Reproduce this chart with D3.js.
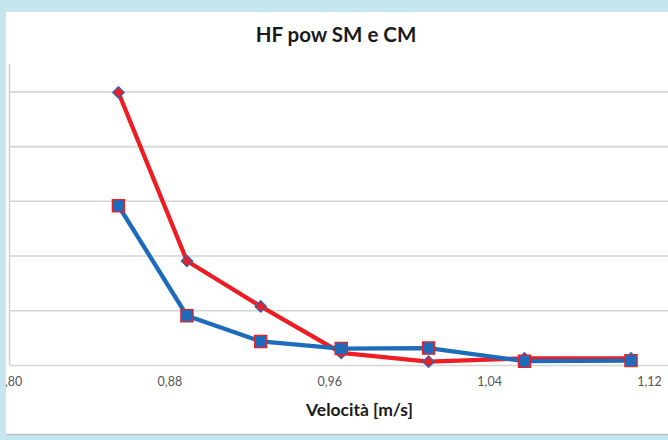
<!DOCTYPE html>
<html>
<head>
<meta charset="utf-8">
<script src="https://cdn.jsdelivr.net/npm/d3@7/dist/d3.min.js"></script>
<style>
  html, body { margin: 0; padding: 0; background: #c6e5ee; }
  svg { display: block; }
</style>
</head>
<body>
<svg id="chart" width="668" height="440"></svg>
<script>
// Speed (m/s) at each test step
const speeds = [0.8545, 0.8888, 0.9257, 0.966, 1.0097, 1.0577, 1.111];
// HF power, two conditions
const seriesSM = [4.98, 1.90, 1.07, 0.22, 0.06, 0.12, 0.12];
const seriesCM = [2.91, 0.90, 0.43, 0.30, 0.31, 0.07, 0.08];
// x-axis tick values and their labels
const xTicks = [0.80, 0.88, 0.96, 1.04, 1.12];
const xTickLabels = ["0,80", "0,88", "0,96", "1,04", "1,12"];
const yGridValues = [0, 1, 2, 3, 4, 5];

const chartTitle = "HF pow SM e CM";
const xTitle = "Velocità [m/s]";

const W = 668, H = 440;
const svg = d3.select("#chart");

// light blue frame and white chart area
svg.append("rect").attr("width", W).attr("height", H).attr("fill", "#c6e5ee");
svg.append("defs").append("clipPath").attr("id", "panel")
  .append("rect").attr("x", 6).attr("y", 12).attr("width", W - 6).attr("height", 422);
svg.append("rect").attr("x", 6).attr("y", 12).attr("width", W - 6).attr("height", 422).attr("fill", "#ffffff");
svg.append("line").attr("x1", 6).attr("x2", W).attr("y1", 434.5).attr("y2", 434.5)
  .attr("stroke", "#b9c3c6").attr("stroke-width", 1.5);

const g = svg.append("g").attr("clip-path", "url(#panel)");

const x = d3.scaleLinear().domain([0.80, 1.12]).range([9.5, 649]);
const y = d3.scaleLinear().domain([0, 5.5]).range([365, 64]);

// horizontal gridlines
const yAxis = d3.axisLeft(y).tickValues(yGridValues).tickSize(-(W - x(0.80))).tickFormat("");
const gy = g.append("g").attr("transform", `translate(${x(0.80)},0)`).call(yAxis);
gy.select(".domain").remove();
gy.selectAll(".tick line").attr("stroke", "#d4d4d4").attr("stroke-width", 1.6);

// vertical axis line
g.append("line").attr("x1", x(0.80)).attr("x2", x(0.80)).attr("y1", y(5.5)).attr("y2", y(0))
  .attr("stroke", "#cfcfcf").attr("stroke-width", 1.5);

// x axis labels
const xAxis = d3.axisBottom(x).tickValues(xTicks).tickSize(0).tickPadding(12)
  .tickFormat((d, i) => xTickLabels[i]);
const gx = g.append("g").attr("transform", `translate(0,${y(0)})`).call(xAxis);
gx.select(".domain").remove();
gx.selectAll("text")
  .attr("font-family", "Lato, 'Open Sans', sans-serif")
  .attr("font-size", 12.5).attr("fill", "#555555");

// titles
g.append("text").attr("x", 336).attr("y", 41.5).attr("text-anchor", "middle")
  .attr("font-family", "Lato, 'Open Sans', sans-serif").attr("font-weight", "bold")
  .attr("font-size", 20.5).attr("fill", "#1a1a1a").text(chartTitle);
g.append("text").attr("x", 359.5).attr("y", 416).attr("text-anchor", "middle")
  .attr("font-family", "Lato, 'Open Sans', sans-serif").attr("font-weight", "bold")
  .attr("font-size", 17.5).attr("fill", "#1a1a1a").text(xTitle);

const red = "#ee1d24", blue = "#1d6bbb";
const line = d3.line().x(d => x(d[0])).y(d => y(d[1]));

// rotate: 45 turns the square marker into an even diamond
function drawSeries(values, color, edge, size, rotate) {
  const pts = speeds.map((s, i) => [s, values[i]]);
  g.append("path").datum(pts).attr("d", line).attr("fill", "none")
    .attr("stroke", color).attr("stroke-width", 4.3).attr("stroke-linejoin", "round");
  g.selectAll(null).data(pts).enter().append("path")
    .attr("transform", d => `translate(${x(d[0])},${y(d[1])}) rotate(${rotate})`)
    .attr("d", d3.symbol().type(d3.symbolSquare).size(size))
    .attr("fill", color).attr("stroke", edge).attr("stroke-width", 1.2);
}

drawSeries(seriesSM, red, blue, 66, 45);
drawSeries(seriesCM, blue, red, 150, 0);
</script>
</body>
</html>
